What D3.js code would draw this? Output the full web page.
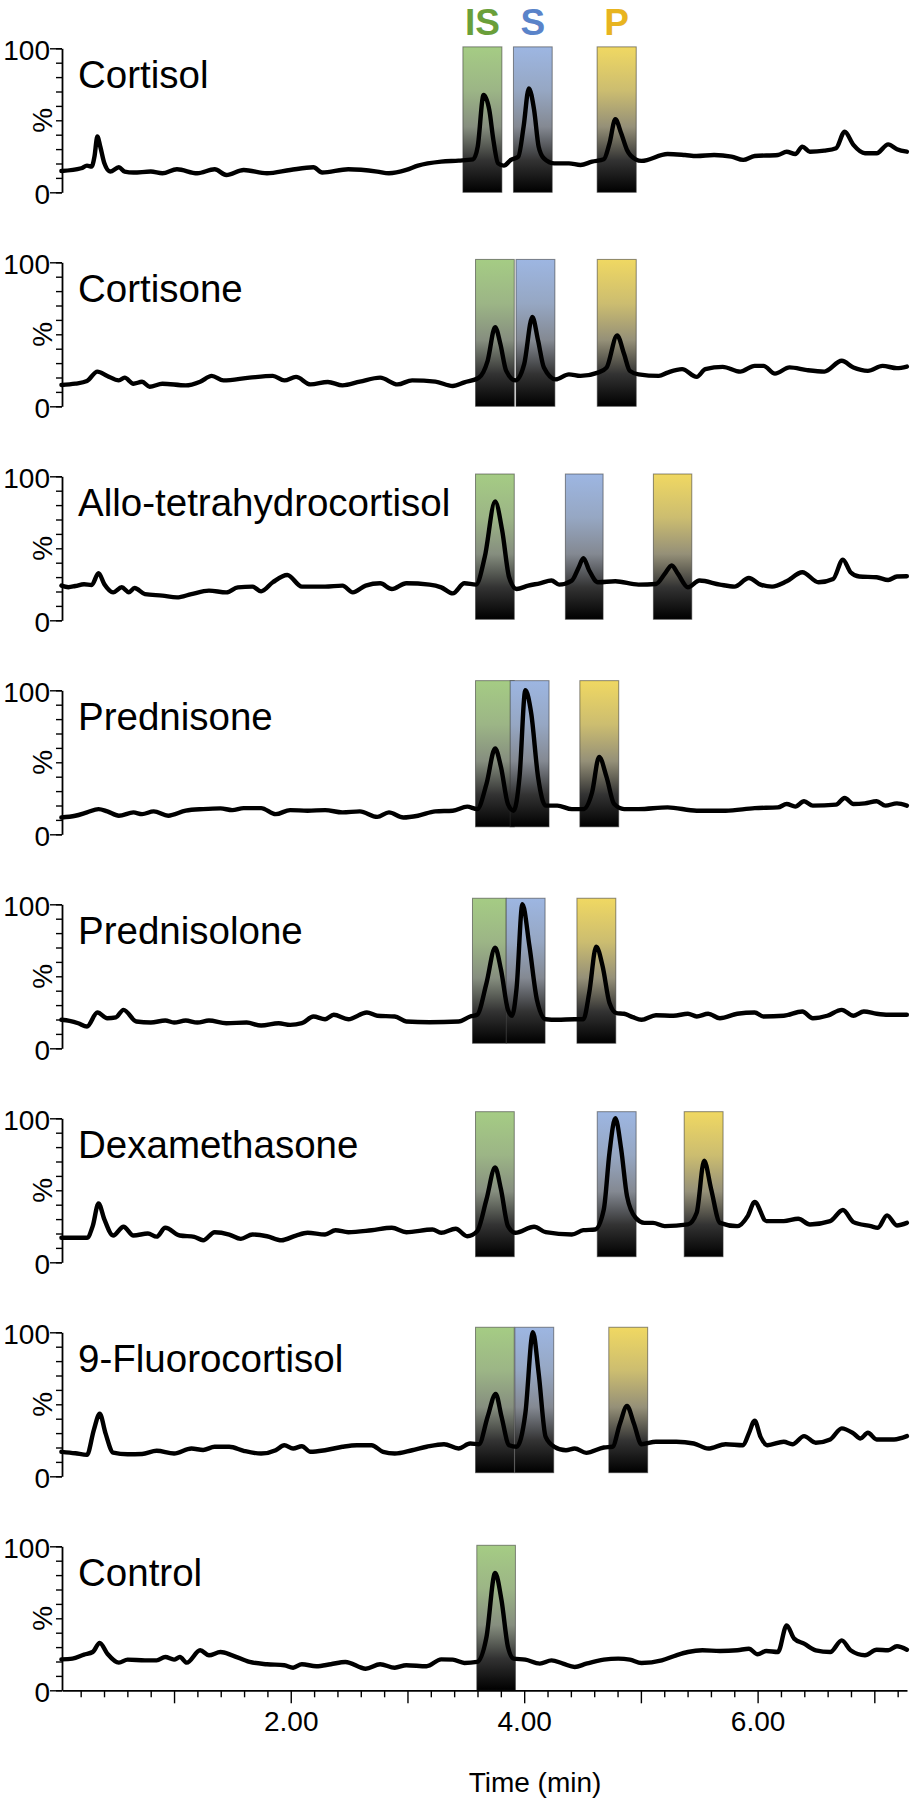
<!DOCTYPE html>
<html><head><meta charset="utf-8">
<script src="https://cdn.jsdelivr.net/npm/d3@7"></script>
<style>body{margin:0;background:#fff}svg{display:block}</style>
</head><body><svg id="c" width="910" height="1800"></svg>
<script>
// ---------------- DATA ----------------
const panelNames = ["Cortisol","Cortisone","Allo-tetrahydrocortisol","Prednisone","Prednisolone","Dexamethasone","9-Fluorocortisol","Control"];
const windowKeys = ["IS","S","P"];
const windowColors = {IS:"#a5cc84", S:"#9db6e2", P:"#f0d862"};
const headerColors = {IS:"#6a9f3a", S:"#5a83c9", P:"#e8b41f"};
const xMajorTicks = [1,2,3,4,5,6,7];
const xLabelTicks = [2,4,6];
const yLabelTicks = [0,100];
const xTitle = "Time (min)";
const yTitle = "%";

// [time (min), intensity (%)]
const cortisol = [[0.035,14.8],[0.204,16.7],[0.254,18.5],[0.294,17.8],[0.318,24.8],[0.343,38.7],[0.368,31.7],[0.403,20.1],[0.453,14.4],[0.527,17.4],[0.577,14.4],[0.652,13.7],[0.801,14.4],[0.9,13.2],[1.025,16.0],[1.199,13.2],[1.348,16.0],[1.448,12.0],[1.597,15.5],[1.796,13.2],[1.995,15.5],[2.194,17.4],[2.269,13.7],[2.493,16.0],[2.741,14.4],[2.841,13.2],[2.99,15.5],[3.09,18.5],[3.289,21.3],[3.438,22.0],[3.562,22.9],[3.602,31.7],[3.652,67.6],[3.701,57.2],[3.736,36.3],[3.776,20.1],[3.826,18.5],[3.886,22.5],[3.95,24.8],[3.995,45.6],[4.04,72.2],[4.085,57.2],[4.124,31.7],[4.169,23.6],[4.259,20.1],[4.383,20.1],[4.483,19.0],[4.582,21.3],[4.682,22.9],[4.731,34.0],[4.781,50.7],[4.831,41.0],[4.881,29.4],[4.955,22.9],[5.005,21.8],[5.229,26.6],[5.378,25.9],[5.478,25.2],[5.627,25.9],[5.776,24.8],[5.876,22.5],[5.975,25.2],[6.174,25.9],[6.249,28.2],[6.323,26.6],[6.383,31.7],[6.448,28.2],[6.572,28.9],[6.672,30.6],[6.746,42.1],[6.821,32.9],[6.92,27.1],[7.02,27.1],[7.119,33.3],[7.194,29.9],[7.279,28.2]];
const cortisone = [[0.035,14.8],[0.154,15.7],[0.254,17.5],[0.343,24.1],[0.428,21.1],[0.527,18.0],[0.577,19.9],[0.652,15.7],[0.726,17.0],[0.791,13.6],[0.9,15.7],[1.1,14.5],[1.224,17.1],[1.323,21.1],[1.423,18.0],[1.647,19.9],[1.846,21.1],[1.945,18.0],[2.045,20.4],[2.169,15.2],[2.318,16.9],[2.443,14.5],[2.592,17.1],[2.766,19.9],[2.915,15.2],[3.04,18.0],[3.239,17.1],[3.388,14.1],[3.488,16.6],[3.612,19.9],[3.687,31.6],[3.751,55.0],[3.796,43.3],[3.846,24.6],[3.925,18.0],[4.0,29.3],[4.07,62.1],[4.119,45.7],[4.169,26.9],[4.269,18.7],[4.383,22.2],[4.483,21.1],[4.632,23.4],[4.706,26.9],[4.796,49.2],[4.856,36.3],[4.905,24.6],[4.98,22.2],[5.154,21.1],[5.229,23.4],[5.353,25.8],[5.478,20.4],[5.552,25.8],[5.701,27.4],[5.851,24.1],[5.975,28.1],[6.05,28.1],[6.149,22.7],[6.274,27.0],[6.423,25.1],[6.572,24.1],[6.721,31.6],[6.821,26.9],[6.945,24.6],[7.07,28.1],[7.194,26.5],[7.279,27.6]];
const alloTHF = [[0.035,24.1],[0.095,23.0],[0.154,23.8],[0.229,25.0],[0.294,24.5],[0.353,32.7],[0.403,25.0],[0.478,19.4],[0.552,22.9],[0.612,19.5],[0.662,22.4],[0.751,18.2],[0.9,17.1],[1.025,15.9],[1.149,18.2],[1.299,20.6],[1.448,19.4],[1.547,22.9],[1.672,23.4],[1.746,20.1],[1.846,26.4],[1.97,31.5],[2.095,23.4],[2.294,23.4],[2.443,24.1],[2.532,19.4],[2.642,24.1],[2.766,25.7],[2.866,21.7],[2.99,25.7],[3.189,24.8],[3.289,22.9],[3.388,18.7],[3.488,25.7],[3.587,24.8],[3.662,43.9],[3.751,82.5],[3.811,62.6],[3.871,29.9],[3.935,21.7],[4.035,24.1],[4.134,25.7],[4.234,27.6],[4.299,24.8],[4.408,27.6],[4.468,36.9],[4.507,43.2],[4.557,34.6],[4.632,26.4],[4.781,27.1],[4.98,24.8],[5.129,25.2],[5.204,32.2],[5.264,38.1],[5.318,32.2],[5.403,22.9],[5.502,27.6],[5.677,24.8],[5.801,23.4],[5.925,29.4],[6.025,24.8],[6.124,23.4],[6.249,27.1],[6.383,33.4],[6.522,26.4],[6.647,28.7],[6.731,42.1],[6.796,33.4],[6.871,30.4],[7.02,29.9],[7.119,28.0],[7.194,30.4],[7.279,30.6]];
const prednisone = [[0.035,11.7],[0.154,12.9],[0.254,15.2],[0.353,17.5],[0.428,15.9],[0.527,12.9],[0.652,15.2],[0.726,14.0],[0.826,15.9],[0.95,12.9],[1.1,16.4],[1.249,17.5],[1.398,18.0],[1.498,16.8],[1.597,18.2],[1.746,18.2],[1.871,14.0],[1.995,16.8],[2.144,16.4],[2.294,16.8],[2.443,15.2],[2.592,15.9],[2.741,12.1],[2.841,15.2],[2.965,11.7],[3.09,12.9],[3.239,15.9],[3.388,16.4],[3.512,19.2],[3.597,17.5],[3.677,35.0],[3.751,59.6],[3.801,46.7],[3.861,21.0],[3.91,16.4],[3.96,39.7],[4.01,100],[4.06,84.1],[4.119,39.7],[4.184,19.9],[4.284,19.9],[4.408,17.5],[4.507,17.5],[4.582,29.2],[4.642,53.7],[4.706,39.7],[4.771,21.0],[4.856,17.5],[4.98,17.5],[5.229,18.7],[5.478,16.4],[5.726,16.4],[5.975,18.2],[6.174,18.7],[6.249,21.0],[6.323,19.2],[6.398,22.9],[6.473,19.9],[6.672,20.6],[6.746,25.2],[6.821,21.0],[6.92,21.5],[7.02,22.9],[7.095,19.9],[7.194,21.5],[7.279,19.9]];
const prednisolone = [[0.035,19.8],[0.104,19.0],[0.179,17.4],[0.254,15.1],[0.343,24.9],[0.428,20.9],[0.502,21.5],[0.567,26.7],[0.677,18.6],[0.801,17.9],[0.925,19.3],[1.0,17.9],[1.1,19.3],[1.199,17.9],[1.299,19.3],[1.448,17.4],[1.622,17.9],[1.746,15.8],[1.896,17.4],[1.995,16.3],[2.095,17.4],[2.194,22.1],[2.294,20.2],[2.368,23.3],[2.493,20.2],[2.652,24.9],[2.741,22.6],[2.891,22.1],[2.99,18.6],[3.189,18.1],[3.438,18.6],[3.537,22.1],[3.597,23.3],[3.677,45.3],[3.751,69.8],[3.801,54.7],[3.861,26.7],[3.896,22.6],[3.935,41.9],[3.985,100],[4.045,70.9],[4.109,33.7],[4.184,20.2],[4.284,19.8],[4.433,20.2],[4.507,20.2],[4.557,38.4],[4.617,70.5],[4.672,57.0],[4.731,31.4],[4.791,24.4],[4.856,24.0],[4.93,21.6],[5.005,19.8],[5.129,23.0],[5.279,22.6],[5.403,24.0],[5.478,22.1],[5.577,24.0],[5.677,20.9],[5.826,24.0],[5.975,24.9],[6.05,22.1],[6.224,22.6],[6.383,25.6],[6.473,20.9],[6.597,22.6],[6.721,26.7],[6.821,22.6],[6.91,25.6],[7.02,24.0],[7.119,23.3],[7.279,23.3]];
const dexamethasone = [[0.035,17.0],[0.254,17.0],[0.303,25.1],[0.353,40.9],[0.403,29.8],[0.478,18.6],[0.567,24.7],[0.652,18.6],[0.776,20.0],[0.851,17.8],[0.925,24.0],[1.05,18.6],[1.174,17.7],[1.249,15.3],[1.348,20.9],[1.473,19.3],[1.572,16.3],[1.672,19.3],[1.796,18.1],[1.92,15.3],[2.045,18.6],[2.144,20.5],[2.294,19.3],[2.383,22.3],[2.493,20.9],[2.692,22.3],[2.866,24.0],[2.99,20.9],[3.214,22.8],[3.289,20.5],[3.413,23.3],[3.512,18.1],[3.597,21.6],[3.677,43.7],[3.751,65.8],[3.801,50.7],[3.861,25.1],[3.925,20.5],[4.085,24.7],[4.184,20.9],[4.408,19.3],[4.507,22.3],[4.607,22.8],[4.682,36.7],[4.731,76.3],[4.781,100],[4.831,78.6],[4.881,46.0],[4.955,30.9],[5.03,27.4],[5.104,27.4],[5.204,25.1],[5.403,26.3],[5.478,34.4],[5.542,70.5],[5.602,50.7],[5.677,27.4],[5.826,25.1],[5.915,32.1],[5.975,41.9],[6.075,28.6],[6.224,28.6],[6.348,30.2],[6.448,26.3],[6.622,28.6],[6.731,36.3],[6.821,27.9],[6.97,25.1],[7.03,24.0],[7.109,32.6],[7.194,25.6],[7.279,27.4]];
const fluorocortisol = [[0.035,17.0],[0.154,16.0],[0.254,14.9],[0.313,32.3],[0.363,43.5],[0.413,29.8],[0.478,16.5],[0.602,15.3],[0.726,15.5],[0.851,17.7],[1.0,15.8],[1.149,19.3],[1.249,18.3],[1.348,20.5],[1.473,20.5],[1.597,17.7],[1.746,15.8],[1.871,18.1],[1.945,21.6],[2.02,19.3],[2.095,20.9],[2.169,17.0],[2.294,18.1],[2.443,20.5],[2.567,21.6],[2.692,21.6],[2.791,17.0],[2.891,15.8],[3.04,18.1],[3.164,20.5],[3.313,22.3],[3.438,19.3],[3.537,22.8],[3.612,22.3],[3.687,41.4],[3.756,57.2],[3.806,41.4],[3.871,21.6],[3.935,20.5],[4.01,43.7],[4.075,100],[4.124,71.6],[4.184,27.4],[4.259,20.5],[4.358,18.1],[4.433,19.3],[4.532,16.3],[4.682,20.0],[4.756,20.5],[4.821,36.7],[4.881,48.8],[4.94,36.7],[5.005,22.3],[5.129,24.0],[5.303,24.0],[5.453,22.8],[5.577,19.3],[5.726,22.3],[5.876,21.6],[5.925,29.8],[5.975,38.6],[6.025,27.4],[6.085,21.6],[6.224,24.0],[6.298,22.3],[6.398,27.9],[6.498,23.3],[6.622,25.6],[6.721,33.3],[6.821,29.8],[6.881,26.3],[6.945,30.2],[7.02,25.6],[7.169,25.6],[7.279,27.9]];
const control = [[0.035,21.5],[0.129,22.0],[0.229,24.8],[0.303,26.6],[0.363,32.9],[0.428,25.5],[0.527,19.2],[0.602,21.3],[0.751,20.8],[0.851,20.8],[0.925,23.1],[1.0,21.3],[1.05,23.1],[1.109,19.2],[1.224,27.8],[1.299,24.3],[1.398,26.6],[1.498,24.3],[1.647,19.7],[1.796,18.1],[1.945,17.4],[2.02,15.7],[2.095,18.1],[2.219,16.7],[2.343,18.1],[2.468,19.7],[2.642,15.0],[2.766,18.1],[2.891,15.7],[2.99,17.4],[3.164,16.7],[3.289,21.5],[3.388,21.3],[3.488,19.0],[3.597,19.7],[3.677,37.0],[3.751,81.5],[3.806,62.5],[3.861,30.1],[3.91,22.0],[4.01,21.3],[4.134,18.5],[4.234,20.8],[4.333,18.5],[4.433,16.2],[4.532,18.5],[4.682,21.3],[4.806,22.0],[4.905,21.3],[5.005,19.0],[5.179,20.8],[5.303,24.3],[5.403,26.6],[5.527,27.8],[5.677,27.3],[5.826,27.8],[5.925,28.9],[6.0,25.0],[6.075,27.3],[6.174,26.6],[6.249,45.1],[6.313,35.9],[6.398,32.4],[6.498,27.8],[6.622,26.6],[6.721,34.7],[6.796,27.8],[6.92,24.3],[7.02,28.2],[7.119,27.8],[7.194,30.6],[7.279,28.2]];
const traces = [cortisol, cortisone, alloTHF, prednisone, prednisolone, dexamethasone, fluorocortisol, control];

// retention windows: [key, start (min), end (min), low %, high %]
const windowsCortisol      = [["IS",3.475,3.809,0,101],["S",3.908,4.240,0,101],["P",4.625,4.960,0,101]];
const windowsCortisone     = [["IS",3.583,3.915,0,102],["S",3.930,4.263,0,102],["P",4.626,4.960,0,102]];
const windowsAllo          = [["IS",3.583,3.915,0.7,101.6],["S",4.353,4.676,0.7,101.6],["P",5.107,5.436,0.7,101.6]];
const windowsPrednisone    = [["IS",3.583,3.915,5.2,106.7],["S",3.880,4.213,5.2,106.7],["P",4.477,4.810,5.2,106.7]];
const windowsPrednisolone  = [["IS",3.557,3.846,3.5,104.2],["S",3.846,4.179,3.5,104.2],["P",4.452,4.785,3.5,104.2]];
const windowsDexamethasone = [["IS",3.583,3.915,3.9,104.6],["S",4.626,4.959,3.9,104.6],["P",5.371,5.704,3.9,104.6]];
const windowsFluoro        = [["IS",3.583,3.915,2.5,103.5],["S",3.920,4.253,2.5,103.5],["P",4.725,5.058,2.5,103.5]];
const windowsControl       = [["IS",3.594,3.925,0,100.7]];
const windowSets = [windowsCortisol, windowsCortisone, windowsAllo, windowsPrednisone, windowsPrednisolone, windowsDexamethasone, windowsFluoro, windowsControl];

// ---------------- DRAWING ----------------
const svg = d3.select("#c");
const FONT = "'Liberation Sans', Arial, Helvetica, sans-serif";
const axisX = 62, axisRight = 907;
const firstZero = 192.3, panelStep = 214, panelH = 144;

const x = d3.scaleLinear().domain([0.04, 7.28]).range([axisX, axisRight]);

// gradients
const defs = svg.append("defs");
windowKeys.forEach(k => {
  const c = windowColors[k];
  const g = defs.append("linearGradient").attr("id", "grad-" + k)
    .attr("x1", 0).attr("y1", 0).attr("x2", 0).attr("y2", 1);
  g.append("stop").attr("offset", "0%").attr("stop-color", c);
  g.append("stop").attr("offset", "30%").attr("stop-color", d3.interpolateRgb(c, "#8a8a8a")(0.35));
  g.append("stop").attr("offset", "55%").attr("stop-color", d3.interpolateRgb(c, "#7e7e7e")(0.8));
  g.append("stop").attr("offset", "78%").attr("stop-color", "#333");
  g.append("stop").attr("offset", "100%").attr("stop-color", "#000");
});

// header labels over first panel windows
windowSets[0].forEach(w => {
  svg.append("text")
    .attr("x", x((w[1] + w[2]) / 2)).attr("y", 35)
    .attr("text-anchor", "middle")
    .attr("font-family", FONT).attr("font-weight", "bold").attr("font-size", 37)
    .attr("fill", headerColors[w[0]])
    .text(w[0]);
});

const line = d3.line().curve(d3.curveMonotoneX);

panelNames.forEach((name, i) => {
  const y0 = firstZero + panelStep * i;
  const y = d3.scaleLinear().domain([0, 100]).range([y0, y0 - panelH]);
  const g = svg.append("g");

  // windows
  g.selectAll("rect.win").data(windowSets[i]).join("rect")
    .attr("class", "win")
    .attr("x", d => x(d[1])).attr("width", d => x(d[2]) - x(d[1]))
    .attr("y", d => y(d[4])).attr("height", d => y(d[3]) - y(d[4]))
    .attr("fill", d => `url(#grad-${d[0]})`)
    .attr("stroke", "rgba(50,50,50,0.55)").attr("stroke-width", 1);

  // y axis minor
  const ay = g.append("g").attr("transform", `translate(${axisX},0)`)
    .call(d3.axisLeft(y).tickValues(d3.range(0, 101, 10)).tickSize(6).tickSizeOuter(0).tickFormat(""));
  ay.select(".domain").attr("stroke-width", 1.8);
  ay.selectAll(".tick line").attr("stroke-width", 1.4);
  // y axis major with labels
  const ay2 = g.append("g").attr("transform", `translate(${axisX},0)`)
    .call(d3.axisLeft(y).tickValues(yLabelTicks).tickSize(12).tickFormat(d3.format("d")));
  ay2.select(".domain").remove();
  ay2.selectAll(".tick line").attr("stroke-width", 1.4);
  ay2.selectAll("text").attr("font-family", FONT).attr("font-size", 28)
    .attr("x", -12).attr("dy", "0.4em").attr("fill", "#000");

  // % label
  g.append("text")
    .attr("transform", `translate(52,${y(50)}) rotate(-90)`)
    .attr("text-anchor", "middle")
    .attr("font-family", FONT).attr("font-size", 28)
    .text(yTitle);

  // trace
  g.append("path").datum(traces[i])
    .attr("d", line.x(d => x(d[0])).y(d => y(d[1])))
    .attr("fill", "none").attr("stroke", "#000").attr("stroke-width", 4.4)
    .attr("stroke-linejoin", "round").attr("stroke-linecap", "round");

  // compound name
  g.append("text")
    .attr("x", 78).attr("y", y(100) + 40)
    .attr("font-family", FONT).attr("font-size", 38.5)
    .text(name);

  // x axis only on last panel
  if (i === panelNames.length - 1) {
    const minor = d3.range(1, 37).filter(k => k % 5 !== 0).map(k => k * 0.2);
    const ax = g.append("g").attr("transform", `translate(0,${y0})`)
      .call(d3.axisBottom(x).tickValues(minor).tickSize(7).tickSizeOuter(0).tickFormat(""));
    ax.select(".domain").attr("stroke-width", 1.8);
    ax.selectAll(".tick line").attr("stroke-width", 1.4);
    const ax2 = g.append("g").attr("transform", `translate(0,${y0})`)
      .call(d3.axisBottom(x).tickValues(xMajorTicks).tickSize(13)
        .tickFormat(d => xLabelTicks.includes(d) ? d3.format(".2f")(d) : ""));
    ax2.select(".domain").remove();
    ax2.selectAll(".tick line").attr("stroke-width", 1.4);
    ax2.selectAll("text").attr("font-family", FONT).attr("font-size", 28)
      .attr("y", 21).attr("fill", "#000");

    svg.append("text")
      .attr("x", 535).attr("y", 1792)
      .attr("text-anchor", "middle")
      .attr("font-family", FONT).attr("font-size", 28)
      .text(xTitle);
  }
});
</script>
</body></html>
